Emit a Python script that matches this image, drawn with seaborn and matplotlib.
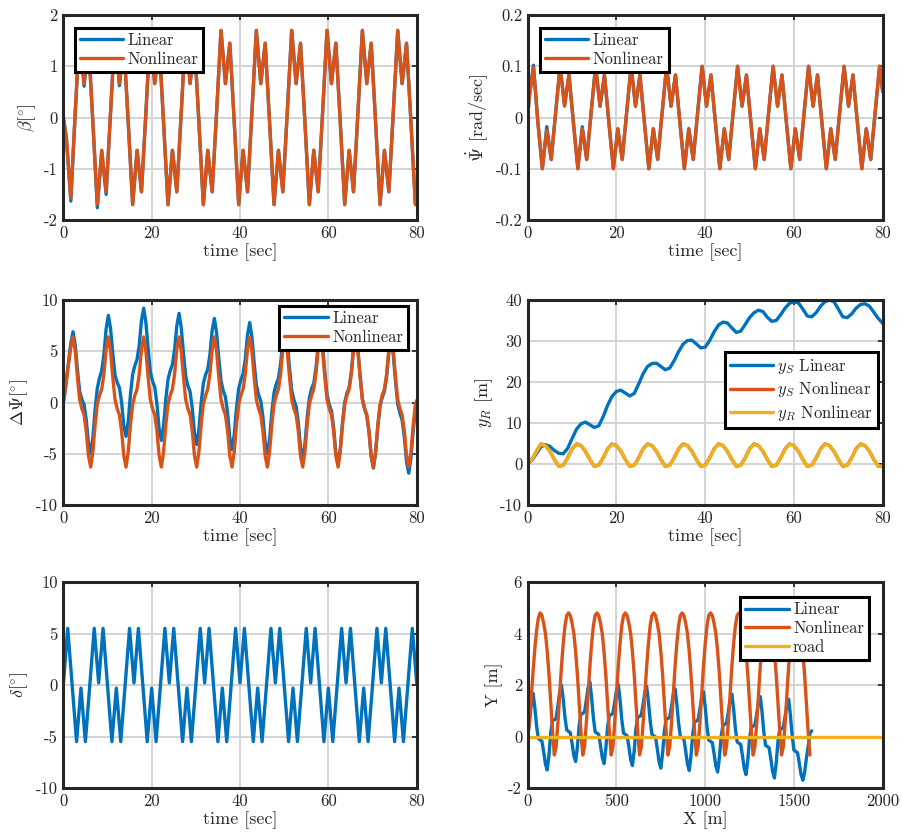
import numpy as np
import matplotlib
matplotlib.use("Agg")
import matplotlib.pyplot as plt
import seaborn as sns

# ---------------- data ----------------
# Panel 1: sideslip beta [deg]
beta_time = np.concatenate([[0.0], np.arange(0.7, 80.0, 1.0), [80.0]])
beta_nonlinear = [0.0, -0.4, -1.58, 0.1,
    1.7, 0.66, 1.45, -0.1, -1.7, -0.64, -1.45, 0.1,
    1.7, 0.66, 1.45, -0.1, -1.7, -0.64, -1.45, 0.1,
    1.7, 0.66, 1.45, -0.1, -1.7, -0.64, -1.45, 0.1,
    1.7, 0.66, 1.45, -0.1, -1.7, -0.64, -1.45, 0.1,
    1.7, 0.66, 1.45, -0.1, -1.7, -0.64, -1.45, 0.1,
    1.7, 0.66, 1.45, -0.1, -1.7, -0.64, -1.45, 0.1,
    1.7, 0.66, 1.45, -0.1, -1.7, -0.64, -1.45, 0.1,
    1.7, 0.66, 1.45, -0.1, -1.7, -0.64, -1.45, 0.1,
    1.7, 0.66, 1.45, -0.1, -1.7, -0.64, -1.45, 0.1,
    1.7, 0.66, 1.45, -0.1, -1.7,
    -1.62]
beta_linear = [0.0, -0.4, -1.63, 0.1,
    1.7, 0.61, 1.45, -0.1, -1.76, -0.66, -1.5, 0.1,
    1.7, 0.62, 1.45, -0.1, -1.7, -0.64, -1.45, 0.1,
    1.7, 0.66, 1.45, -0.1, -1.7, -0.64, -1.45, 0.1,
    1.7, 0.66, 1.45, -0.1, -1.7, -0.64, -1.45, 0.1,
    1.7, 0.66, 1.45, -0.1, -1.7, -0.64, -1.45, 0.1,
    1.7, 0.66, 1.45, -0.1, -1.7, -0.64, -1.45, 0.1,
    1.7, 0.66, 1.45, -0.1, -1.7, -0.64, -1.45, 0.1,
    1.7, 0.66, 1.45, -0.1, -1.7, -0.64, -1.45, 0.1,
    1.7, 0.66, 1.45, -0.1, -1.7, -0.64, -1.45, 0.1,
    1.7, 0.66, 1.45, -0.1, -1.7,
    -1.62]

# Panel 2: yaw rate [rad/sec]
psidot_time = np.concatenate([[0.0], np.arange(0.3, 80.0, 1.0), [80.0]])
psidot_nonlinear = [0.0,
    0.035, 0.098, -0.01, -0.1, -0.025, -0.082, 0.01,
    0.1, 0.022, 0.083, -0.01, -0.1, -0.022, -0.082, 0.01,
    0.1, 0.022, 0.083, -0.01, -0.1, -0.022, -0.082, 0.01,
    0.1, 0.022, 0.083, -0.01, -0.1, -0.022, -0.082, 0.01,
    0.1, 0.022, 0.083, -0.01, -0.1, -0.022, -0.082, 0.01,
    0.1, 0.022, 0.083, -0.01, -0.1, -0.022, -0.082, 0.01,
    0.1, 0.022, 0.083, -0.01, -0.1, -0.022, -0.082, 0.01,
    0.1, 0.022, 0.083, -0.01, -0.1, -0.022, -0.082, 0.01,
    0.1, 0.022, 0.083, -0.01, -0.1, -0.022, -0.082, 0.01,
    0.1, 0.022, 0.083, -0.01, -0.1, -0.022, -0.082, 0.01,
    0.1, 0.05]
psidot_linear = [0.0,
    0.036, 0.102, -0.01, -0.1, -0.018, -0.082, 0.01,
    0.1, 0.024, 0.084, -0.01, -0.1, -0.018, -0.082, 0.01,
    0.1, 0.022, 0.083, -0.01, -0.1, -0.022, -0.082, 0.01,
    0.1, 0.022, 0.083, -0.01, -0.1, -0.022, -0.082, 0.01,
    0.1, 0.022, 0.083, -0.01, -0.1, -0.022, -0.082, 0.01,
    0.1, 0.022, 0.083, -0.01, -0.1, -0.022, -0.082, 0.01,
    0.1, 0.022, 0.083, -0.01, -0.1, -0.022, -0.082, 0.01,
    0.1, 0.022, 0.083, -0.01, -0.1, -0.022, -0.082, 0.01,
    0.1, 0.022, 0.083, -0.01, -0.1, -0.022, -0.082, 0.01,
    0.1, 0.022, 0.083, -0.01, -0.1, -0.022, -0.082, 0.01,
    0.1, 0.05]

# Panel 3: heading error Delta Psi [deg]
dpsi_time = np.concatenate([[0.0], np.arange(0.2, 80.0, 0.5), [80.0]])
dpsi_nonlinear = [0.0, 0.5, 2.1, 3.8, 5.4,
    6.4, 5.0, 2.5, 0.3, -0.6, -1.2, -2.8, -5.2, -6.3, -4.8, -2.2, -0.2, 0.7, 1.3, 2.8, 5.2,
    6.4, 5.0, 2.5, 0.3, -0.6, -1.2, -2.8, -5.2, -6.3, -4.8, -2.2, -0.2, 0.7, 1.3, 2.8, 5.2,
    6.4, 5.0, 2.5, 0.3, -0.6, -1.2, -2.8, -5.2, -6.3, -4.8, -2.2, -0.2, 0.7, 1.3, 2.8, 5.2,
    6.4, 5.0, 2.5, 0.3, -0.6, -1.2, -2.8, -5.2, -6.3, -4.8, -2.2, -0.2, 0.7, 1.3, 2.8, 5.2,
    6.4, 5.0, 2.5, 0.3, -0.6, -1.2, -2.8, -5.2, -6.3, -4.8, -2.2, -0.2, 0.7, 1.3, 2.8, 5.2,
    6.4, 5.0, 2.5, 0.3, -0.6, -1.2, -2.8, -5.2, -6.3, -4.8, -2.2, -0.2, 0.7, 1.3, 2.8, 5.2,
    6.4, 5.0, 2.5, 0.3, -0.6, -1.2, -2.8, -5.2, -6.3, -4.8, -2.2, -0.2, 0.7, 1.3, 2.8, 5.2,
    6.4, 5.0, 2.5, 0.3, -0.6, -1.2, -2.8, -5.2, -6.3, -4.8, -2.2, -0.2, 0.7, 1.3, 2.8, 5.2,
    6.4, 5.0, 2.5, 0.3, -0.6, -1.2, -2.8, -5.2, -6.3, -4.8, -2.2, -0.2, 0.7, 1.3, 2.8, 5.2,
    6.4, 5.0, 2.5, 0.3, -0.6, -1.2, -2.8, -5.2, -6.3, -4.8, -2.2, -0.2,
    0.2]
dpsi_linear = [0.0, 0.5, 2.2, 4.0, 5.8,
    6.9, 5.6, 3.2, 1.1, 0.3, -0.2, -1.7, -4.0, -5.0, -3.4, -0.7, 1.4, 2.4, 3.1, 4.7, 7.2,
    8.5, 7.2, 4.8, 2.7, 1.95, 1.45, 0.0, -2.3, -3.3, -1.8, 0.75, 2.75, 3.6, 4.2, 5.65, 8.0,
    9.2, 7.8, 5.3, 3.0, 2.1, 1.5, -0.15, -2.6, -3.7, -2.25, 0.3, 2.25, 3.1, 3.7, 5.15, 7.5,
    8.7, 7.3, 4.8, 2.6, 1.65, 1.05, -0.6, -3.0, -4.1, -2.65, -0.1, 1.85, 2.7, 3.25, 4.7, 7.05,
    8.2, 6.8, 4.3, 2.1, 1.15, 0.55, -1.05, -3.5, -4.6, -3.15, -0.6, 1.35, 2.2, 2.8, 4.25, 6.6,
    7.8, 6.4, 3.9, 1.7, 0.75, 0.15, -1.45, -3.9, -5.0, -3.55, -1.0, 0.95, 1.8, 2.35, 3.8, 6.15,
    7.3, 5.9, 3.4, 1.2, 0.25, -0.35, -1.95, -4.4, -5.5, -4.05, -1.5, 0.45, 1.35, 1.9, 3.35, 5.7,
    6.9, 5.5, 3.0, 0.75, -0.2, -0.8, -2.45, -4.9, -6.0, -4.55, -1.95, 0.0, 0.9, 1.45, 2.95, 5.3,
    6.5, 5.1, 2.55, 0.35, -0.6, -1.25, -2.85, -5.3, -6.4, -4.9, -2.35, -0.35, 0.5, 1.1, 2.55, 4.9,
    6.1, 4.65, 2.1, -0.15, -1.05, -1.7, -3.35, -5.8, -6.9, -5.4, -2.8, -0.8,
    0.0]

# Panel 4: lateral positions [m]
y_time = np.arange(0, 81, 1)
ys_linear = [0.0, 1.0, 2.6, 4.2, 4.7, 4.3, 3.3, 2.6, 2.5, 3.8,
    6.2, 8.5, 9.8, 10.2, 9.6, 8.9, 9.3, 11.5, 14.3, 16.5,
    17.7, 18.0, 17.3, 16.6, 17.2, 19.5, 22.0, 23.8, 24.5, 24.6,
    23.8, 23.0, 23.4, 25.2, 27.4, 29.2, 30.1, 30.2, 29.3, 28.3,
    28.5, 30.1, 32.2, 33.9, 34.6, 34.4, 33.2, 32.1, 32.4, 34.0,
    35.7, 36.9, 37.5, 37.2, 35.8, 34.8, 35.0, 36.4, 38.0, 39.2,
    39.6, 39.3, 37.8, 36.1, 35.9, 36.9, 38.5, 39.6, 40.0, 39.6,
    37.8, 35.9, 35.7, 36.6, 38.0, 38.9, 39.1, 38.5, 37.0, 35.5,
    34.3]
ys_nonlinear = [0.0, 1.2, 3.2,
    4.9, 4.5, 3.1, 1.1, -0.55, -0.3, 1.5, 3.7,
    4.9, 4.5, 3.1, 1.1, -0.55, -0.3, 1.5, 3.7,
    4.9, 4.5, 3.1, 1.1, -0.55, -0.3, 1.5, 3.7,
    4.9, 4.5, 3.1, 1.1, -0.55, -0.3, 1.5, 3.7,
    4.9, 4.5, 3.1, 1.1, -0.55, -0.3, 1.5, 3.7,
    4.9, 4.5, 3.1, 1.1, -0.55, -0.3, 1.5, 3.7,
    4.9, 4.5, 3.1, 1.1, -0.55, -0.3, 1.5, 3.7,
    4.9, 4.5, 3.1, 1.1, -0.55, -0.3, 1.5, 3.7,
    4.9, 4.5, 3.1, 1.1, -0.55, -0.3, 1.5, 3.7,
    4.9, 4.5, 3.1, 1.1, -0.55, -0.5]
yr_nonlinear = [0.0, 1.1, 3.1,
    4.8, 4.5, 3.2, 1.2, -0.5, -0.35, 1.4, 3.6,
    4.8, 4.5, 3.2, 1.2, -0.5, -0.35, 1.4, 3.6,
    4.8, 4.5, 3.2, 1.2, -0.5, -0.35, 1.4, 3.6,
    4.8, 4.5, 3.2, 1.2, -0.5, -0.35, 1.4, 3.6,
    4.8, 4.5, 3.2, 1.2, -0.5, -0.35, 1.4, 3.6,
    4.8, 4.5, 3.2, 1.2, -0.5, -0.35, 1.4, 3.6,
    4.8, 4.5, 3.2, 1.2, -0.5, -0.35, 1.4, 3.6,
    4.8, 4.5, 3.2, 1.2, -0.5, -0.35, 1.4, 3.6,
    4.8, 4.5, 3.2, 1.2, -0.5, -0.35, 1.4, 3.6,
    4.8, 4.5, 3.2, 1.2, -0.5, -0.55]

# Panel 5: steering angle delta [deg]
delta_time = [0, 1, 3, 4, 5,
    7, 8, 9, 11, 12, 13,
    15, 16, 17, 19, 20, 21,
    23, 24, 25, 27, 28, 29,
    31, 32, 33, 35, 36, 37,
    39, 40, 41, 43, 44, 45,
    47, 48, 49, 51, 52, 53,
    55, 56, 57, 59, 60, 61,
    63, 64, 65, 67, 68, 69,
    71, 72, 73, 75, 76, 77,
    79, 80]
delta_vals = [0.0, 5.5, -5.5, -0.3, -5.5,
    5.5, 0.2, 5.5, -5.5, -0.3, -5.5,
    5.5, 0.2, 5.5, -5.5, -0.3, -5.5,
    5.5, 0.2, 5.5, -5.5, -0.3, -5.5,
    5.5, 0.2, 5.5, -5.5, -0.3, -5.5,
    5.5, 0.2, 5.5, -5.5, -0.3, -5.5,
    5.5, 0.2, 5.5, -5.5, -0.3, -5.5,
    5.5, 0.2, 5.5, -5.5, -0.3, -5.5,
    5.5, 0.2, 5.5, -5.5, -0.3, -5.5,
    5.5, 0.2, 5.5, -5.5, -0.3, -5.5,
    5.5, 0.2]

# Panel 6: path Y vs X [m]
path_x = np.arange(0, 1601, 10)
path_y_linear = [0.0, 0.55, 1.25,
    1.68, 1.14, 0.41, -0.08, -0.13, -0.18, -0.60, -1.07, -1.30, -0.72, 0.16, 0.62, 0.65, 0.70, 1.19, 1.73,
    2.0, 1.46, 0.74, 0.25, 0.2, 0.15, -0.27, -0.74, -0.97, -0.41, 0.43, 0.87, 0.9, 0.95, 1.39, 1.88,
    2.12, 1.52, 0.73, 0.18, 0.13, 0.08, -0.34, -0.81, -1.05, -0.48, 0.38, 0.82, 0.85, 0.9, 1.32, 1.79,
    2.02, 1.44, 0.66, 0.13, 0.08, 0.03, -0.40, -0.89, -1.13, -0.56, 0.30, 0.75, 0.78, 0.83, 1.25, 1.72,
    1.95, 1.37, 0.61, 0.08, 0.03, -0.02, -0.47, -0.98, -1.23, -0.65, 0.22, 0.67, 0.70, 0.75, 1.16, 1.62,
    1.85, 1.28, 0.52, 0.0, -0.05, -0.10, -0.56, -1.07, -1.32, -0.74, 0.12, 0.57, 0.60, 0.65, 1.06, 1.51,
    1.74, 1.16, 0.39, -0.14, -0.19, -0.24, -0.67, -1.14, -1.38, -0.82, 0.01, 0.44, 0.47, 0.52, 0.94, 1.41,
    1.65, 1.08, 0.31, -0.21, -0.26, -0.31, -0.75, -1.24, -1.48, -0.92, -0.07, 0.37, 0.40, 0.45, 0.86, 1.32,
    1.55, 0.97, 0.19, -0.34, -0.39, -0.44, -0.88, -1.37, -1.61, -1.04, -0.18, 0.27, 0.30, 0.35, 0.76, 1.22,
    1.45, 0.84, 0.03, -0.53, -0.58, -0.63, -1.03, -1.48, -1.70, -1.40, -0.85, -0.40, 0.12, 0.22]
path_y_nonlinear = [0.0, 0.6, 1.5, 2.5, 3.4, 4.1, 4.6,
    4.8, 4.7, 4.4, 4.0, 3.3, 2.4, 1.3, 0.2, -0.72, -0.4, 0.5, 1.6, 2.7, 3.6, 4.3, 4.7,
    4.8, 4.7, 4.4, 4.0, 3.3, 2.4, 1.3, 0.2, -0.72, -0.4, 0.5, 1.6, 2.7, 3.6, 4.3, 4.7,
    4.8, 4.7, 4.4, 4.0, 3.3, 2.4, 1.3, 0.2, -0.72, -0.4, 0.5, 1.6, 2.7, 3.6, 4.3, 4.7,
    4.8, 4.7, 4.4, 4.0, 3.3, 2.4, 1.3, 0.2, -0.72, -0.4, 0.5, 1.6, 2.7, 3.6, 4.3, 4.7,
    4.8, 4.7, 4.4, 4.0, 3.3, 2.4, 1.3, 0.2, -0.72, -0.4, 0.5, 1.6, 2.7, 3.6, 4.3, 4.7,
    4.8, 4.7, 4.4, 4.0, 3.3, 2.4, 1.3, 0.2, -0.72, -0.4, 0.5, 1.6, 2.7, 3.6, 4.3, 4.7,
    4.8, 4.7, 4.4, 4.0, 3.3, 2.4, 1.3, 0.2, -0.72, -0.4, 0.5, 1.6, 2.7, 3.6, 4.3, 4.7,
    4.8, 4.7, 4.4, 4.0, 3.3, 2.4, 1.3, 0.2, -0.72, -0.4, 0.5, 1.6, 2.7, 3.6, 4.3, 4.7,
    4.8, 4.7, 4.4, 4.0, 3.3, 2.4, 1.3, 0.2, -0.72, -0.4, 0.5, 1.6, 2.7, 3.6, 4.3, 4.7,
    4.8, 4.7, 4.4, 4.0, 3.3, 2.4, 1.3, 0.2,
    -0.72]
road_x = [0, 2000]
road_y = [0, 0]

# ---------------- style ----------------
sns.set_theme(style="white")
plt.rcParams.update({
    "font.family": ["cmr10", "DejaVu Serif"],
    "mathtext.fontset": "cm",
    "axes.unicode_minus": False,
    "axes.formatter.use_mathtext": True,
})

BLUE = "#0072BD"
ORANGE = "#D95319"
YELLOW = "#EDB120"
DARK = "#262626"
LW = 2.4

W, H = 902, 840
fig = plt.figure(figsize=(W / 100, H / 100), dpi=100)


def make_ax(left, right, top, bottom):
    return fig.add_axes([left / W, 1 - bottom / H, (right - left) / W, (bottom - top) / H])


def style(ax, xlim, xticks, xlabels, ylim, yticks, ylabels, xlabel, ylabel):
    ax.set_xlim(*xlim)
    ax.set_ylim(*ylim)
    ax.set_xticks(xticks, labels=xlabels)
    ax.set_yticks(yticks, labels=ylabels)
    ax.set_xlabel(xlabel, fontsize=13, color=DARK, labelpad=2)
    ax.set_ylabel(ylabel, fontsize=13, color=DARK, labelpad=4)
    ax.grid(True, color="#d4d4d4", linewidth=1.4)
    ax.set_axisbelow(True)
    ax.tick_params(direction="in", length=3.5, width=1.3, top=True, right=True,
                   labelsize=12, colors=DARK, pad=4)
    for s in ax.spines.values():
        s.set_linewidth(2.2)
        s.set_color(DARK)


def legend(ax, loc, anchor):
    lg = ax.legend(loc=loc, bbox_to_anchor=anchor, borderaxespad=0, fontsize=12,
                   frameon=True, fancybox=False, framealpha=1, edgecolor="black",
                   handlelength=2.6, handletextpad=0.25, labelspacing=0.2,
                   borderpad=0.3)
    lg.get_frame().set_linewidth(2.2)


def line(ax, x, y, color, label=None):
    sns.lineplot(x=np.asarray(x, dtype=float), y=np.asarray(y, dtype=float), ax=ax,
                 color=color, linewidth=LW, label=label, sort=False, estimator=None)


time_ticks = [0, 20, 40, 60, 80]
time_labels = ["0", "20", "40", "60", "80"]

# Panel 1
ax1 = make_ax(63.3, 416.7, 15, 220)
line(ax1, beta_time, beta_linear, BLUE, "Linear")
line(ax1, beta_time, beta_nonlinear, ORANGE, "Nonlinear")
style(ax1, (0, 80), time_ticks, time_labels, (-2, 2), [-2, -1, 0, 1, 2],
      ["-2", "-1", "0", "1", "2"], "time [sec]", r"$\beta[^{\circ}]$")
legend(ax1, "upper left", (0.033, 0.937))

# Panel 2
ax2 = make_ax(527.7, 882.7, 15, 220)
line(ax2, psidot_time, psidot_linear, BLUE, "Linear")
line(ax2, psidot_time, psidot_nonlinear, ORANGE, "Nonlinear")
style(ax2, (0, 80), time_ticks, time_labels, (-0.2, 0.2), [-0.2, -0.1, 0, 0.1, 0.2],
      ["-0.2", "-0.1", "0", "0.1", "0.2"], "time [sec]", r"$\dot{\Psi}$ [rad/sec]")
legend(ax2, "upper left", (0.035, 0.937))

# Panel 3
ax3 = make_ax(63.3, 416.7, 300, 505)
line(ax3, dpsi_time, dpsi_linear, BLUE, "Linear")
line(ax3, dpsi_time, dpsi_nonlinear, ORANGE, "Nonlinear")
style(ax3, (0, 80), time_ticks, time_labels, (-10, 10), [-10, -5, 0, 5, 10],
      ["-10", "-5", "0", "5", "10"], "time [sec]", r"$\Delta\Psi[^{\circ}]$")
legend(ax3, "upper right", (0.975, 0.971))

# Panel 4
ax4 = make_ax(527.7, 882.7, 300, 505)
line(ax4, y_time, ys_linear, BLUE, r"$y_S$ Linear")
line(ax4, y_time, ys_nonlinear, ORANGE, r"$y_S$ Nonlinear")
line(ax4, y_time, yr_nonlinear, YELLOW, r"$y_R$ Nonlinear")
style(ax4, (0, 80), time_ticks, time_labels, (-10, 40), [-10, 0, 10, 20, 30, 40],
      ["-10", "0", "10", "20", "30", "40"], "time [sec]", r"$y_R$ [m]")
legend(ax4, "upper right", (0.987, 0.746))

# Panel 5
ax5 = make_ax(63.3, 416.7, 582, 788)
line(ax5, delta_time, delta_vals, BLUE)
style(ax5, (0, 80), time_ticks, time_labels, (-10, 10), [-10, -5, 0, 5, 10],
      ["-10", "-5", "0", "5", "10"], "time [sec]", r"$\delta[^{\circ}]$")
if ax5.get_legend() is not None:
    ax5.get_legend().remove()

# Panel 6
ax6 = make_ax(527.7, 882.7, 582, 788)
line(ax6, path_x, path_y_linear, BLUE, "Linear")
line(ax6, path_x[:len(path_y_nonlinear)], path_y_nonlinear, ORANGE, "Nonlinear")
line(ax6, road_x, road_y, YELLOW, "road")
style(ax6, (0, 2000), [0, 500, 1000, 1500, 2000], ["0", "500", "1000", "1500", "2000"],
      (-2, 6), [-2, 0, 2, 4, 6], ["-2", "0", "2", "4", "6"], "X [m]", "Y [m]")
legend(ax6, "upper right", (0.961, 0.927))

fig.savefig("out.png", dpi=100, facecolor="white")
